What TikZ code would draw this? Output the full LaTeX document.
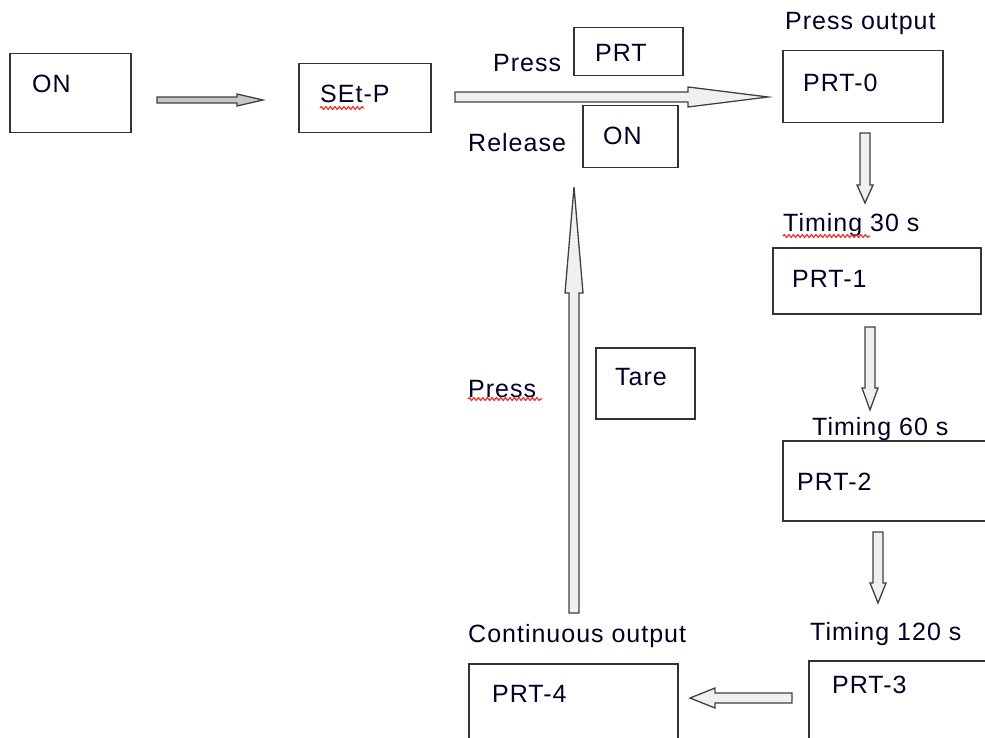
\documentclass[tikz,border=0pt]{standalone}
\usepackage{fontspec}
\setmainfont{Liberation Sans}[LetterSpace=4]
\usetikzlibrary{calc,decorations.pathmorphing}
\tikzset{
  box/.style={draw=black!80, line width=1.5pt, anchor=north west, inner sep=0pt},
  lbl/.style={anchor=base west, inner sep=0pt, font=\fontsize{25}{29}\selectfont, text=black!85!blue},
  arrowbody/.style={draw=black!75, line width=1.3pt, fill=gray!12, line join=miter},
  squiggle/.style={draw=red!85, line width=1.1pt, decorate,
    decoration={snake, amplitude=1.5pt, segment length=4.5pt}}
}
% hollow block arrow: #1 tail, #2 tip, #3 shaft half width, #4 head half width, #5 head length
\newcommand\blockarrow[6][]{%
  \coordinate (ba-c) at ($(#3)!#6!(#2)$);
  \draw[arrowbody,#1] ($(#2)!#4!90:(#3)$) -- ($(ba-c)!#4!90:(#3)$) -- ($(ba-c)!#5!90:(#3)$)
    -- (#3) -- ($(ba-c)!#5!-90:(#3)$) -- ($(ba-c)!#4!-90:(#3)$) -- ($(#2)!#4!-90:(#3)$) -- cycle;
}
\begin{document}
\begin{tikzpicture}[x=1pt,y=-1pt]
\useasboundingbox (0,0) rectangle (985,738);

% boxes
\node[box, minimum width=121pt, minimum height=79pt] (onA)   at (9,53) {};
\node[box, minimum width=132pt, minimum height=69pt] (setp)  at (298,63) {};
\node[box, minimum width=109pt, minimum height=48pt] (prtk)  at (573,27) {};
\node[box, minimum width=95pt,  minimum height=62pt] (onk)   at (582,105) {};
\node[box, minimum width=160pt, minimum height=72pt] (prt0)  at (782,50) {};
\node[box, minimum width=208pt, minimum height=66pt] (prt1)  at (772,247) {};
\node[box, minimum width=213pt, minimum height=80pt] (prt2)  at (782,440) {};
\node[box, minimum width=187pt, minimum height=80pt] (prt3)  at (808,660) {};
\node[box, minimum width=209pt, minimum height=77pt] (prt4)  at (468,663) {};
\node[box, minimum width=99pt,  minimum height=71pt] (tare)  at (595,347) {};

% texts
\node[lbl] (tOn)    at (32,93)   {ON};
\node[lbl] (tSet)   at (320,103) {SEt-P};
\node[lbl] (tPress) at (493,72)  {Press};
\node[lbl] (tPrt)   at (595,62)  {PRT};
\node[lbl] (tRel)   at (468,152) {Release};
\node[lbl] (tOnk)   at (603,145) {ON};
\node[lbl] (tPout)  at (785,30)  {Press output};
\node[lbl] (tP0)    at (803,92)  {PRT-0};
\node[lbl] (tT30)   at (783,231) {Timing 30 s};
\node[lbl] (tP1)    at (792,287) {PRT-1};
\node[lbl] (tT60)   at (812,435) {Timing 60 s};
\node[lbl] (tP2)    at (797,490) {PRT-2};
\node[lbl] (tT120)  at (810,640) {Timing 120 s};
\node[lbl] (tP3)    at (832,693) {PRT-3};
\node[lbl] (tCont)  at (468,642) {Continuous output};
\node[lbl] (tP4)    at (492,702) {PRT-4};
\node[lbl] (tTare)  at (615,385) {Tare};
\node[lbl] (tPress2) at (468,397) {Press};

% spelling marks
\draw[squiggle] (320,108) -- (364,108);
\draw[squiggle] (783,236) -- (870,236);
\draw[squiggle] (468,399) -- (542,399);

% arrow end points
\coordinate (a1s) at (157,100);  \coordinate (a1e) at (263,100);
\coordinate (a2s) at (455,97);   \coordinate (a2e) at (768,97);
\coordinate (a3s) at (865,133);  \coordinate (a3e) at (865,203);
\coordinate (a4s) at (870,327);  \coordinate (a4e) at (870,410);
\coordinate (a5s) at (878,532);  \coordinate (a5e) at (878,603);
\coordinate (a6s) at (792,698);  \coordinate (a6e) at (690,698);
\coordinate (a7s) at (574,613);  \coordinate (a7e) at (574,187);

\blockarrow[fill=gray!45]{a1s}{a1e}{3pt}{6pt}{26pt}
\blockarrow{a2s}{a2e}{5pt}{10pt}{80pt}
\blockarrow{a3s}{a3e}{5pt}{8pt}{18pt}
\blockarrow{a4s}{a4e}{5pt}{8pt}{22pt}
\blockarrow{a5s}{a5e}{5pt}{8pt}{20pt}
\blockarrow{a6s}{a6e}{5pt}{10pt}{25pt}
\blockarrow{a7s}{a7e}{5pt}{9pt}{106pt}
\end{tikzpicture}
\end{document}
